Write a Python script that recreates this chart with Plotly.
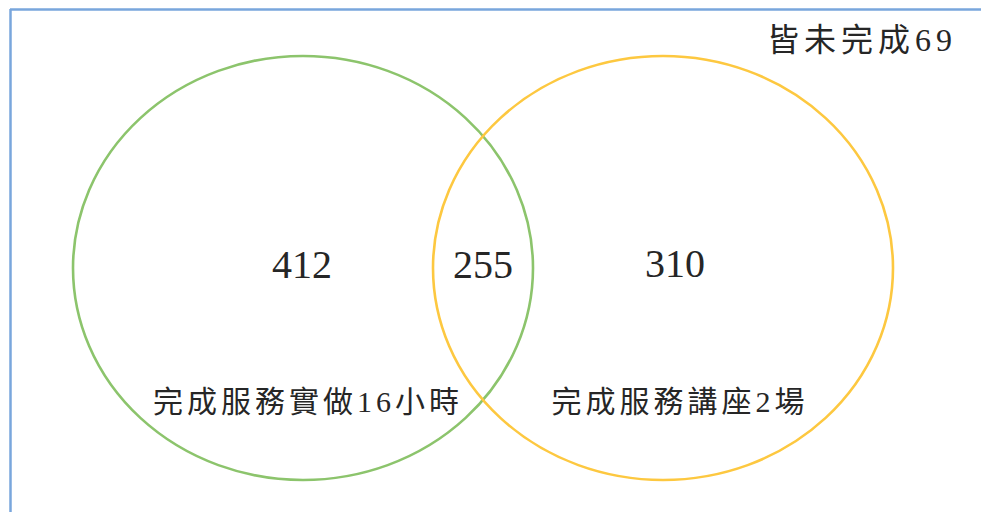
import plotly.graph_objects as go

# ---- data ----
set_labels = ["完成服務實做16小時", "完成服務講座2場"]
region_counts = [412, 255, 310]          # only A, A∩B, only B
neither_label = "皆未完成"
neither_count = 69

# ---- layout geometry (pixels) ----
W, H = 981, 512
circles = [
    dict(cx=303, cy=268, rx=230, ry=212, color="#8cc46c"),
    dict(cx=663, cy=268, rx=230, ry=212, color="#fdc840"),
]
count_pos = [(302, 268), (483, 268), (675, 267)]
label_pos = [(308, 404), (680, 404)]
neither_pos = (862, 43)

FONT = "Liberation Serif, Noto Sans CJK TC, serif"
TXT = "#262626"

fig = go.Figure()

shapes = []
for c in circles:
    shapes.append(dict(type="circle", xref="x", yref="y",
                       x0=c["cx"] - c["rx"], x1=c["cx"] + c["rx"],
                       y0=c["cy"] - c["ry"], y1=c["cy"] + c["ry"],
                       line=dict(color=c["color"], width=2.6),
                       fillcolor="rgba(0,0,0,0)"))
# frame lines (top and left)
shapes.append(dict(type="line", xref="x", yref="y", x0=10, x1=W, y0=9.5, y1=9.5,
                   line=dict(color="#79a6dc", width=2.5)))
shapes.append(dict(type="line", xref="x", yref="y", x0=10.5, x1=10.5, y0=9, y1=H,
                   line=dict(color="#79a6dc", width=2.5)))

fig.add_trace(go.Scatter(
    x=[p[0] for p in count_pos], y=[p[1] for p in count_pos],
    mode="text", text=[str(v) for v in region_counts],
    textfont=dict(family=FONT, size=40, color=TXT),
    hoverinfo="skip", showlegend=False, name="counts"))

fig.add_trace(go.Scatter(
    x=[p[0] for p in label_pos], y=[p[1] for p in label_pos],
    mode="text", text=set_labels,
    textfont=dict(family=FONT, size=30, color=TXT),
    hoverinfo="skip", showlegend=False, name="labels"))

fig.add_trace(go.Scatter(
    x=[neither_pos[0]], y=[neither_pos[1]],
    mode="text", text=[f"{neither_label}{neither_count}"],
    textfont=dict(family=FONT, size=32, color=TXT),
    hoverinfo="skip", showlegend=False, name="neither"))

fig.update_layout(
    width=W, height=H,
    margin=dict(l=0, r=0, t=0, b=0),
    paper_bgcolor="white", plot_bgcolor="white",
    shapes=shapes,
    xaxis=dict(range=[0, W], visible=False, fixedrange=True),
    yaxis=dict(range=[H, 0], visible=False, fixedrange=True),
)

post_js = """
document.body.style.margin='0';
document.body.style.overflow='hidden';
var traces = document.querySelectorAll('.scatterlayer .trace');
var spacing = [0, 4, 5];
traces.forEach(function(t, i){
  t.querySelectorAll('.textpoint text').forEach(function(el){
    el.setAttribute('letter-spacing', spacing[i] + 'px');
  });
});
"""

fig.write_html("out.html", config={"displayModeBar": False}, post_script=post_js)
